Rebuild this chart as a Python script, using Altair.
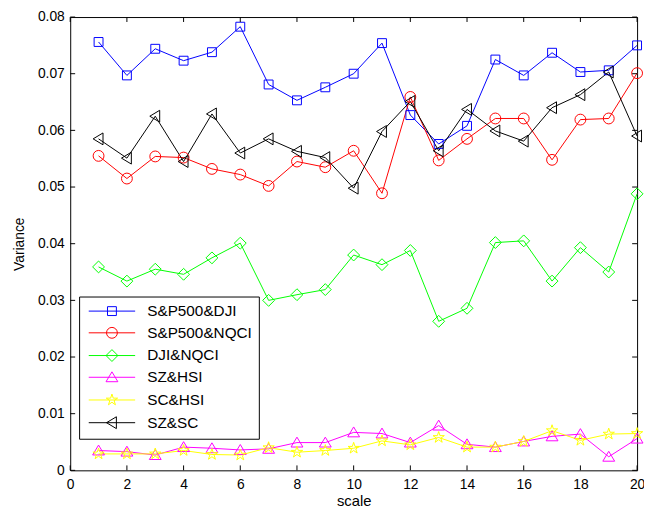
import altair as alt
import pandas as pd

scale_idx = list(range(1, 21))
names = ["S&P500&DJI", "S&P500&NQCI", "DJI&NQCI", "SZ&HSI", "SC&HSI", "SZ&SC"]
sp_dji = [0.0756, 0.0697, 0.0744, 0.0723, 0.0738, 0.0783, 0.0681, 0.0653, 0.0676, 0.0700,
          0.0754, 0.0627, 0.0576, 0.0608, 0.0725, 0.0697, 0.0737, 0.0703, 0.0706, 0.0750]
sp_nqci = [0.0555, 0.0515, 0.0554, 0.0552, 0.0532, 0.0522, 0.0502, 0.0545, 0.0535, 0.0564,
           0.0489, 0.0659, 0.0547, 0.0585, 0.0621, 0.0621, 0.0548, 0.0619, 0.0621, 0.0701]
dji_nqci = [0.0359, 0.0334, 0.0355, 0.0346, 0.0375, 0.0401, 0.0300, 0.0310, 0.0319, 0.0380,
            0.0363, 0.0388, 0.0263, 0.0286, 0.0402, 0.0405, 0.0334, 0.0393, 0.0350, 0.0488]
sz_hsi = [0.0035, 0.0033, 0.0027, 0.0041, 0.0039, 0.0036, 0.0038, 0.0049, 0.0049, 0.0067,
          0.0065, 0.0049, 0.0079, 0.0046, 0.0041, 0.0051, 0.0060, 0.0064, 0.0024, 0.0056]
sc_hsi = [0.0029, 0.0029, 0.0029, 0.0035, 0.0028, 0.0027, 0.0040, 0.0032, 0.0035, 0.0039,
          0.0052, 0.0045, 0.0058, 0.0041, 0.0041, 0.0051, 0.0070, 0.0053, 0.0064, 0.0065]
sz_sc = [0.0585, 0.0551, 0.0625, 0.0545, 0.0629, 0.0560, 0.0585, 0.0563, 0.0552, 0.0498,
         0.0598, 0.0651, 0.0564, 0.0637, 0.0599, 0.0581, 0.0640, 0.0663, 0.0703, 0.0590]
series_values = [sp_dji, sp_nqci, dji_nqci, sz_hsi, sc_hsi, sz_sc]
colors = ["#0000ff", "#ff0000", "#00ff00", "#ff00ff", "#ffff00", "#000000"]
x_ticks = [0, 2, 4, 6, 8, 10, 12, 14, 16, 18, 20]
y_ticks = [0, 0.01, 0.02, 0.03, 0.04, 0.05, 0.06, 0.07, 0.08]

# marker outlines (unit coordinates, scaled by sqrt(size)/2)
markers = [
    "M-0.9,-0.9L0.9,-0.9L0.9,0.9L-0.9,0.9Z",
    "M-1.1,0A1.1,1.1,0,1,1,1.1,0A1.1,1.1,0,1,1,-1.1,0Z",
    "M0,-1.2L1.2,0L0,1.2L-1.2,0Z",
    "M0,-1.1L1.2,0.9L-1.2,0.9Z",
    "M0,-1.2L0.269,-0.371L1.141,-0.371L0.436,0.142L0.705,0.971L0,0.458L-0.705,0.971L-0.436,0.142L-1.141,-0.371L-0.269,-0.371Z",
    "M-1.1,0L0.9,-1.2L0.9,1.2Z",
]
legend_line = "M-4.7,0L4.7,0"
legend_markers = [legend_line + m for m in markers]

rows = []
for name, vals in zip(names, series_values):
    for s, v in zip(scale_idx, vals):
        rows.append({"series": name, "scale": s, "variance": v})
df = pd.DataFrame(rows)
xt_df = pd.DataFrame({"scale": x_ticks})
yt_df = pd.DataFrame({"variance": y_ticks})

W, H = 574, 459
FONT = "Liberation Sans"

xs = alt.Scale(domain=[0, 20], nice=False, zero=False)
ys = alt.Scale(domain=[0, 0.08], nice=False)
color_scale = alt.Scale(domain=names, range=colors)
shape_scale = alt.Scale(domain=names, range=markers)
legend_shape_scale = alt.Scale(domain=names, range=legend_markers)

legend = alt.Legend(
    title=None, orient="none", legendX=9, legendY=283, direction="vertical",
    symbolSize=100, symbolStrokeWidth=1, symbolOffset=18.5, labelOffset=28,
    symbolFillColor="transparent",
    labelFont=FONT, labelFontSize=15.5, labelColor="black", rowPadding=5,
    padding=7, strokeColor="black", fillColor="white", cornerRadius=0,
)

x_axis = alt.Axis(title="scale", values=x_ticks, ticks=False, domain=False, grid=False,
                  labelPadding=7, titlePadding=3, labelFontSize=14, titleFontSize=15,
                  labelFontWeight="normal", titleFontWeight="normal", labelFlush=False)
y_axis = alt.Axis(title="Variance", values=y_ticks, ticks=False, domain=False, grid=False,
                  labelPadding=6, titlePadding=11, labelFontSize=14, titleFontSize=14,
                  titleFontWeight="normal", labelFlush=False,
                  labelExpr="datum.value == 0 ? '0' : format(datum.value, '.2f')")

X = alt.X("scale:Q", scale=xs, axis=x_axis)
Y = alt.Y("variance:Q", scale=ys, axis=y_axis)

lines = alt.Chart(df).mark_line(strokeWidth=1).encode(
    x=X, y=Y,
    stroke=alt.Stroke("series:N", scale=color_scale, legend=None),
    detail="series:N",
)
points = alt.Chart(df).mark_point(filled=False, size=100, strokeWidth=1, opacity=1).encode(
    x=X, y=Y,
    color=alt.Color("series:N", scale=color_scale, legend=None),
    shape=alt.Shape("series:N", scale=shape_scale, legend=None),
)
legend_layer = alt.Chart(df).transform_filter("false").mark_point(
    filled=False, size=100, strokeWidth=1, opacity=1).encode(
    x=X, y=Y,
    color=alt.Color("series:N", scale=color_scale, legend=legend),
    shape=alt.Shape("series:N", scale=legend_shape_scale, legend=legend),
)

TL = 5
xb = alt.Chart(xt_df).mark_rule(color="black", strokeWidth=1).encode(
    x=X, y=alt.value(H), y2=alt.value(H - TL))
xtp = alt.Chart(xt_df).mark_rule(color="black", strokeWidth=1).encode(
    x=X, y=alt.value(0), y2=alt.value(TL))
yl = alt.Chart(yt_df).mark_rule(color="black", strokeWidth=1).encode(
    y=Y, x=alt.value(0), x2=alt.value(TL))
yr = alt.Chart(yt_df).mark_rule(color="black", strokeWidth=1).encode(
    y=Y, x=alt.value(W), x2=alt.value(W - TL))

chart = alt.layer(lines, points, xb, xtp, yl, yr, legend_layer).resolve_scale(
    color="independent", shape="independent"
).properties(
    width=W, height=H,
    autosize=alt.AutoSizeParams(type="none"),
    padding={"left": 63, "top": 6, "right": 7, "bottom": 38},
).configure_view(
    stroke="black", strokeWidth=1
).configure_axis(
    labelFont=FONT, titleFont=FONT, labelColor="black", titleColor="black"
).configure_legend(
    labelFont=FONT
)

chart.save("out.html", embed_options={"renderer": "svg", "actions": False})
